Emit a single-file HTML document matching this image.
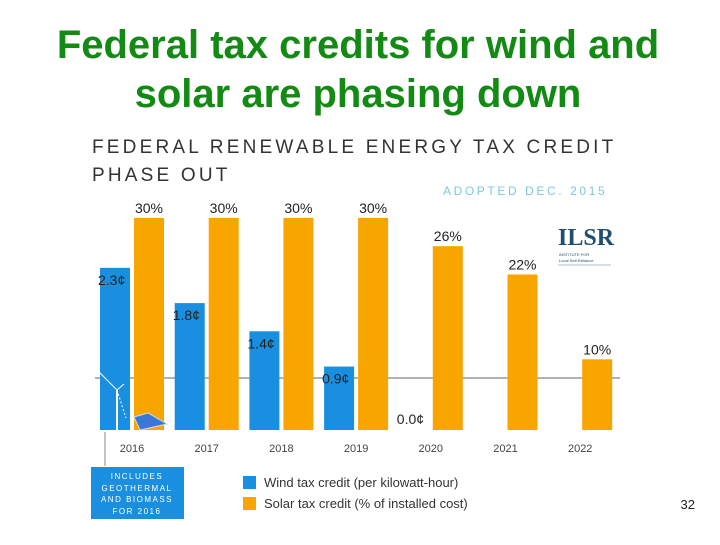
<!DOCTYPE html>
<html><head><meta charset="utf-8"><style>
body{margin:0;background:#fff;}
svg text{font-family:"Liberation Sans",sans-serif;}
</style></head><body>
<svg width="720" height="540" viewBox="0 0 720 540">
<text x="358" y="58" text-anchor="middle" font-size="40" font-weight="bold" fill="#138a13">Federal tax credits for wind and</text>
<text x="358" y="107" text-anchor="middle" font-size="40" font-weight="bold" fill="#138a13">solar are phasing down</text>
<text x="92" y="153" font-size="19" letter-spacing="3.2" fill="#333">FEDERAL RENEWABLE ENERGY TAX CREDIT</text>
<text x="92" y="181" font-size="19" letter-spacing="3.2" fill="#333">PHASE OUT</text>
<text x="443" y="195" font-size="12" letter-spacing="2.6" fill="#7cc8dc">ADOPTED DEC. 2015</text>
<g>
<text x="558" y="245" font-size="24" font-weight="bold" fill="#1f4e6e" style="font-family:'Liberation Serif',serif">ILSR</text>
<text x="559" y="256" font-size="4" fill="#1f4e6e">INSTITUTE FOR</text>
<text x="559" y="262" font-size="4" fill="#1f4e6e">Local Self-Reliance</text>
<line x1="558" y1="265" x2="611" y2="265" stroke="#9ab" stroke-width="0.7"/>
</g>
<line x1="95" y1="378" x2="620" y2="378" stroke="#666" stroke-width="1"/>
<g id="bars"></g>
<line x1="105" y1="466" x2="105" y2="432" stroke="#888" stroke-width="1"/>
<g>
<rect x="91" y="467" width="93" height="52" fill="#1a8fe0"/>
<text x="137" y="479" text-anchor="middle" font-size="8" letter-spacing="1.5" fill="#fff">INCLUDES</text>
<text x="137" y="491" text-anchor="middle" font-size="8" letter-spacing="1.5" fill="#fff">GEOTHERMAL</text>
<text x="137" y="502" text-anchor="middle" font-size="8" letter-spacing="1.5" fill="#fff">AND BIOMASS</text>
<text x="137" y="514" text-anchor="middle" font-size="8" letter-spacing="1.5" fill="#fff">FOR 2016</text>
</g>
<g>
<rect x="243" y="476" width="13" height="13" fill="#1a8fe0"/>
<text x="264" y="487" font-size="13" fill="#333">Wind tax credit (per kilowatt-hour)</text>
</g>
<g>
<rect x="243" y="497" width="13" height="13" fill="#f8a500"/>
<text x="264" y="508" font-size="13" fill="#333">Solar tax credit (% of installed cost)</text>
</g>
<text x="695" y="509" text-anchor="end" font-size="13" fill="#222">32</text>
</svg>
<script>
const years=["2016","2017","2018","2019","2020","2021","2022"];
const windValues=[2.3,1.8,1.4,0.9,0.0,null,null];
const solarValues=[30,30,30,30,26,22,10];
const windLabels=["2.3¢","1.8¢","1.4¢","0.9¢","0.0¢",null,null];
const solarLabels=["30%","30%","30%","30%","26%","22%","10%"];
const base=430, step=74.7, x0=100, bw=30;
const yW=v=>base-v*70.5, yS=v=>base-v*7.07;
const g=document.getElementById('bars'), NS="http://www.w3.org/2000/svg";
function mk(t,a,txt){const e=document.createElementNS(NS,t);for(const k in a)e.setAttribute(k,a[k]);if(txt!=null)e.textContent=txt;g.appendChild(e);return e;}
years.forEach((yr,i)=>{
 const xw=x0+i*step, xs=xw+34;
 if(windValues[i]!=null&&windValues[i]>0){
  const r=mk('rect',{x:xw,y:yW(windValues[i]),width:bw,height:base-yW(windValues[i]),fill:'#1a8fe0'});
  
  
 }
 if(windLabels[i]){
  const top=yW(windValues[i]);
  const ty=windValues[i]>0?top+17:base-6;
  const t=mk('text',{x:xw-2,y:ty,'font-size':14,fill:'#222'},windLabels[i]);
  
  
 }
 const r2=mk('rect',{x:xs,y:yS(solarValues[i]),width:bw,height:base-yS(solarValues[i]),fill:'#f8a500'});
 
 
 const t2=mk('text',{x:xs+bw/2,y:yS(solarValues[i])-5,'text-anchor':'middle','font-size':14,fill:'#222'},solarLabels[i]);
 
 
 const t3=mk('text',{x:xw+32,y:452,'text-anchor':'middle','font-size':11,fill:'#444'},yr);
 
 
});
const tb=mk('g',{});


[['line',{x1:117,y1:390,x2:117,y2:430,stroke:'#fff','stroke-width':2}],['line',{x1:117,y1:390,x2:99,y2:372,stroke:'#fff','stroke-width':1}],['line',{x1:117,y1:390,x2:124,y2:384,stroke:'#fff','stroke-width':1}],['line',{x1:117,y1:390,x2:126,y2:418,stroke:'#fff','stroke-width':1,'stroke-dasharray':'2,2'}]].forEach(([t,a])=>{const e=document.createElementNS(NS,t);for(const k in a)e.setAttribute(k,a[k]);tb.appendChild(e);});
const sp=mk('polygon',{points:'134,417 148,413 167,424 140,430',fill:'#3a78d8',stroke:'#cde',"stroke-width":1});


</script>
</body></html>
